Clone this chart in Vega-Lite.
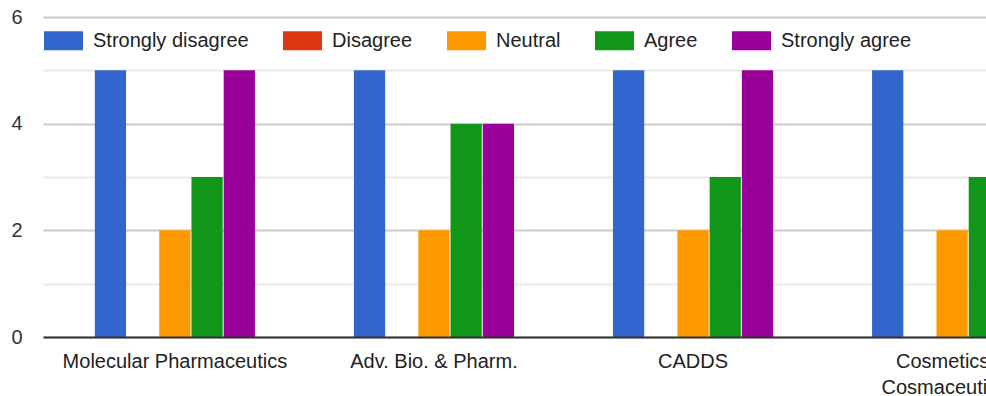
{
  "$schema": "https://vega.github.io/schema/vega-lite/v6.json",
  "autosize": {"type": "none"},
  "width": 943,
  "height": 320,
  "padding": {"left": 43, "top": 17, "right": 0, "bottom": 59},
  "background": "white",
  "config": {
    "view": {"stroke": null},
    "font": "Liberation Sans, Arial, sans-serif"
  },
  "data": {
    "values": [
      {"program": "Molecular Pharmaceutics", "response": "Strongly disagree", "count": 5},
      {"program": "Molecular Pharmaceutics", "response": "Disagree", "count": 0},
      {"program": "Molecular Pharmaceutics", "response": "Neutral", "count": 2},
      {"program": "Molecular Pharmaceutics", "response": "Agree", "count": 3},
      {"program": "Molecular Pharmaceutics", "response": "Strongly agree", "count": 5},
      {"program": "Adv. Bio. & Pharm.", "response": "Strongly disagree", "count": 5},
      {"program": "Adv. Bio. & Pharm.", "response": "Disagree", "count": 0},
      {"program": "Adv. Bio. & Pharm.", "response": "Neutral", "count": 2},
      {"program": "Adv. Bio. & Pharm.", "response": "Agree", "count": 4},
      {"program": "Adv. Bio. & Pharm.", "response": "Strongly agree", "count": 4},
      {"program": "CADDS", "response": "Strongly disagree", "count": 5},
      {"program": "CADDS", "response": "Disagree", "count": 0},
      {"program": "CADDS", "response": "Neutral", "count": 2},
      {"program": "CADDS", "response": "Agree", "count": 3},
      {"program": "CADDS", "response": "Strongly agree", "count": 5},
      {"program": "Cosmetics & Cosmaceuticals", "response": "Strongly disagree", "count": 5},
      {"program": "Cosmetics & Cosmaceuticals", "response": "Disagree", "count": 0},
      {"program": "Cosmetics & Cosmaceuticals", "response": "Neutral", "count": 2},
      {"program": "Cosmetics & Cosmaceuticals", "response": "Agree", "count": 3},
      {"program": "Cosmetics & Cosmaceuticals", "response": "Strongly agree", "count": 4}
    ]
  },
  "mark": {"type": "bar", "clip": true},
  "encoding": {
    "x": {
      "field": "program",
      "type": "nominal",
      "sort": ["Molecular Pharmaceutics", "Adv. Bio. & Pharm.", "CADDS", "Cosmetics & Cosmaceuticals"],
      "scale": {"range": [0, 1041], "paddingInner": 0.382, "paddingOuter": 0.2},
      "axis": {
        "title": null,
        "labelAngle": 0,
        "labelFontSize": 20,
        "labelColor": "#222",
        "labelPadding": 14,
        "labelLineHeight": 26,
        "labelLimit": 0,
        "labelExpr": "datum.label == 'Cosmetics & Cosmaceuticals' ? ['Cosmetics &', 'Cosmaceuticals'] : datum.label",
        "ticks": false,
        "grid": false,
        "domainColor": "#333",
        "domainWidth": 2,
        "labelOverlap": false,
        "zindex": 1
      }
    },
    "xOffset": {
      "field": "response",
      "type": "nominal",
      "sort": ["Strongly disagree", "Disagree", "Neutral", "Agree", "Strongly agree"],
      "scale": {"paddingInner": 0.03, "paddingOuter": 0}
    },
    "y": {
      "field": "count",
      "type": "quantitative",
      "scale": {"domain": [0, 6], "nice": false},
      "axis": {
        "title": null,
        "values": [0, 1, 2, 3, 4, 5, 6],
        "labelExpr": "datum.value % 2 == 0 ? datum.label : ''",
        "labelFontSize": 20,
        "labelColor": "#333",
        "labelPadding": 21,
        "ticks": false,
        "domain": false,
        "gridColor": {"condition": {"test": "datum.value % 2 == 0", "value": "#cccccc"}, "value": "#ebebeb"},
        "gridWidth": 2
      }
    },
    "color": {
      "field": "response",
      "type": "nominal",
      "sort": ["Strongly disagree", "Disagree", "Neutral", "Agree", "Strongly agree"],
      "scale": {
        "domain": ["Strongly disagree", "Disagree", "Neutral", "Agree", "Strongly agree"],
        "range": ["#3366cc", "#dc3912", "#ff9900", "#109618", "#990099"]
      },
      "legend": {
        "title": null,
        "orient": "none",
        "direction": "horizontal",
        "legendX": 1,
        "legendY": 4,
        "padding": 0,
        "symbolType": "M-1,-0.49H1V0.49H-1Z",
        "symbolSize": 1521,
        "symbolStrokeWidth": 0,
        "symbolOpacity": 1,
        "labelFontSize": 20,
        "labelColor": "#222",
        "labelOffset": 10,
        "columnPadding": 34,
        "labelLimit": 400
      }
    }
  }
}
